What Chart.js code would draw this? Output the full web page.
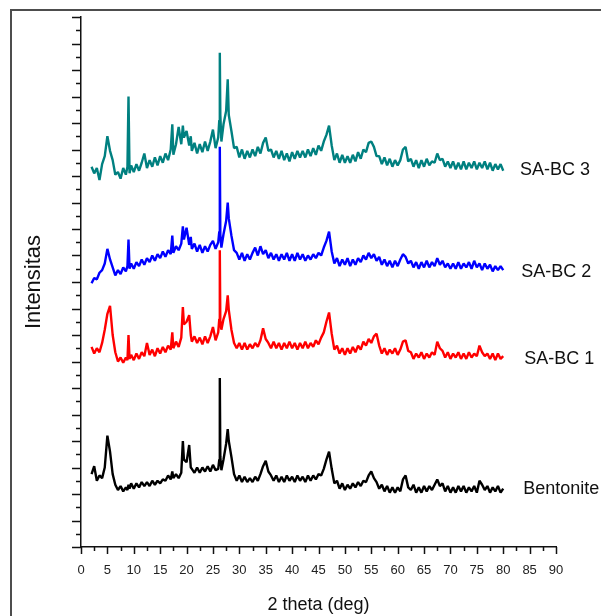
<!DOCTYPE html>
<html>
<head>
<meta charset="utf-8">
<script src="https://cdn.jsdelivr.net/npm/chart.js@4.4.1/dist/chart.umd.min.js"></script>
<style>
  html, body { margin: 0; padding: 0; background: #fff; overflow: hidden; }
  #xrdChart { display: block; }
</style>
</head>
<body>
<canvas id="xrdChart" width="601" height="616"></canvas>
<script>
// 2 theta positions (deg), shared by all patterns
const twoTheta = [
    2, 2.5, 3, 3.5, 4, 4.5, 5, 5.5, 6, 6.5,
    7, 7.5, 8, 8.5, 8.8, 9, 9.2, 9.5, 10, 10.5,
    11, 11.5, 12, 12.5, 13, 13.5, 14, 14.5, 15, 15.5,
    16, 16.5, 17, 17.3, 17.5, 18, 18.5, 19, 19.3, 19.5,
    20, 20.5, 20.8, 21, 21.5, 22, 22.5, 23, 23.5, 24,
    24.5, 25, 25.5, 26, 26.2, 26.3, 26.4, 26.6, 27, 27.5,
    27.8, 28, 28.5, 29, 29.5, 30, 30.5, 31, 31.5, 32,
    32.5, 33, 33.5, 34, 34.5, 35, 35.5, 36, 36.5, 37,
    37.5, 38, 38.5, 39, 39.5, 40, 40.5, 41, 41.5, 42,
    42.5, 43, 43.5, 44, 44.5, 45, 45.5, 46, 46.5, 47,
    47.5, 48, 48.5, 49, 49.5, 50, 50.5, 51, 51.5, 52,
    52.5, 53, 53.5, 54, 54.5, 55, 55.5, 56, 56.5, 57,
    57.5, 58, 58.5, 59, 59.5, 60, 60.5, 61, 61.5, 62,
    62.5, 63, 63.5, 64, 64.5, 65, 65.5, 66, 66.5, 67,
    67.5, 68, 68.5, 69, 69.5, 70, 70.5, 71, 71.5, 72,
    72.5, 73, 73.5, 74, 74.5, 75, 75.5, 76, 76.5, 77,
    77.5, 78, 78.5, 79, 79.5, 80
];

// stacked intensities (offset units)
const sabc3 = [
    14.35, 14.1, 14.3, 13.85, 14.45, 14.75, 15.5, 14.95, 14.6, 14.05,
    14.15, 13.9, 14.3, 14.05, 14.35, 17.0, 14.1, 14.4, 14.15, 14.45,
    14.2, 14.5, 14.85, 14.3, 14.6, 14.35, 14.7, 14.4, 14.75, 14.5,
    14.85, 14.6, 15.0, 15.95, 14.8, 15.2, 15.85, 15.2, 15.9, 15.45,
    15.7, 15.15, 15.5, 14.95, 15.25, 14.85, 15.2, 14.9, 15.3, 14.95,
    15.3, 15.75, 15.05, 15.45, 16.1, 18.65, 16.3, 15.3, 15.95, 16.45,
    17.65, 16.3, 15.7, 15.05, 15.1, 14.7, 15.0, 14.65, 14.95, 14.7,
    15.0, 14.75, 15.1, 14.85, 15.25, 15.45, 14.95, 15.0, 14.7, 14.95,
    14.65, 14.95, 14.6, 14.85, 14.55, 14.9, 14.65, 14.95, 14.7, 14.95,
    14.7, 15.0, 14.75, 15.05, 14.8, 15.15, 14.95, 15.3, 15.55, 15.9,
    15.15, 14.6, 14.85, 14.5, 14.8, 14.5, 14.75, 14.5, 14.8, 14.55,
    14.9, 14.65, 15.0, 14.9, 15.25, 15.3, 15.1, 14.75, 14.75, 14.45,
    14.7, 14.4, 14.65, 14.35, 14.6, 14.4, 14.6, 15.0, 15.1, 14.55,
    14.65, 14.35, 14.6, 14.3, 14.6, 14.35, 14.65, 14.4, 14.55, 14.5,
    14.85, 14.6, 14.65, 14.35, 14.55, 14.3, 14.55, 14.25, 14.5, 14.25,
    14.55, 14.25, 14.5, 14.3, 14.55, 14.25, 14.5, 14.3, 14.55, 14.25,
    14.5, 14.2, 14.45, 14.25, 14.45, 14.2
];
const sabc2 = [
    9.95, 10.15, 10.1, 10.35, 10.45, 10.7, 11.25, 10.85, 10.55, 10.25,
    10.45, 10.3, 10.55, 10.4, 10.6, 11.6, 10.5, 10.7, 10.5, 10.75,
    10.6, 10.85, 10.65, 10.9, 10.75, 11.0, 10.8, 11.05, 10.9, 11.15,
    10.95, 11.2, 11.05, 11.75, 11.1, 11.35, 11.2, 11.45, 12.1, 11.6,
    12.05, 11.4, 11.7, 11.25, 11.45, 11.15, 11.4, 11.1, 11.35, 11.15,
    11.4, 11.55, 11.25, 11.5, 11.9, 15.1, 11.8, 11.3, 11.8, 12.3,
    13.0, 12.4, 11.75, 11.2, 11.1, 10.85, 11.1, 10.8, 11.05, 10.85,
    11.1, 11.3, 11.0, 11.35, 11.05, 11.2, 10.9, 11.1, 10.85, 11.05,
    10.8, 11.05, 10.85, 11.1, 10.8, 11.05, 10.8, 11.1, 10.85, 11.05,
    10.8, 11.0, 10.85, 11.05, 10.9, 11.1, 11.0, 11.3, 11.55, 11.9,
    11.15, 10.7, 10.9, 10.6, 10.85, 10.65, 10.9, 10.6, 10.85, 10.65,
    10.9, 10.75, 11.0, 10.85, 11.1, 10.9, 11.05, 10.8, 10.95, 10.65,
    10.85, 10.6, 10.8, 10.55, 10.8, 10.6, 10.85, 11.05, 10.95, 10.7,
    10.8, 10.55, 10.75, 10.5, 10.75, 10.55, 10.8, 10.55, 10.75, 10.6,
    10.9, 10.65, 10.8, 10.55, 10.7, 10.5, 10.7, 10.5, 10.75, 10.5,
    10.7, 10.55, 10.75, 10.5, 10.8, 10.55, 10.7, 10.45, 10.7, 10.5,
    10.65, 10.4, 10.6, 10.45, 10.6, 10.45
];
const sabc1 = [
    7.55, 7.3, 7.5, 7.35, 7.7, 8.2, 8.8, 9.1, 8.0, 7.35,
    7.0, 7.15, 6.95, 7.15, 7.05, 8.0, 7.1, 7.25, 7.05, 7.3,
    7.1, 7.35, 7.2, 7.7, 7.25, 7.45, 7.2, 7.5, 7.3, 7.55,
    7.35, 7.6, 7.45, 8.1, 7.5, 7.75, 7.55, 7.9, 9.05, 8.4,
    8.5, 8.75, 8.0, 7.75, 7.95, 7.7, 7.9, 7.65, 7.95, 7.7,
    7.95, 8.3, 7.8, 8.1, 8.6, 11.2, 8.5, 8.2, 8.6, 8.9,
    9.5, 8.95, 8.2, 7.7, 7.5, 7.7, 7.45, 7.7, 7.45, 7.65,
    7.5, 7.7, 7.55, 7.8, 8.25, 7.85, 7.7, 7.5, 7.75, 7.5,
    7.7, 7.45, 7.7, 7.5, 7.75, 7.5, 7.7, 7.45, 7.7, 7.5,
    7.75, 7.5, 7.7, 7.55, 7.8, 7.65, 7.9, 8.1, 8.5, 8.85,
    8.05, 7.45, 7.6, 7.3, 7.5, 7.25, 7.5, 7.3, 7.55, 7.35,
    7.6, 7.45, 7.75, 7.6, 7.85, 7.7, 7.95, 8.05, 7.6, 7.3,
    7.5, 7.25, 7.45, 7.3, 7.5, 7.25, 7.45, 7.75, 7.8, 7.4,
    7.35, 7.1, 7.3, 7.15, 7.35, 7.1, 7.3, 7.15, 7.35, 7.25,
    7.75, 7.5, 7.4, 7.15, 7.35, 7.1, 7.3, 7.15, 7.35, 7.1,
    7.3, 7.1, 7.35, 7.15, 7.3, 7.2, 7.6, 7.35, 7.2, 7.3,
    7.1, 7.3, 7.05, 7.3, 7.1, 7.2
];
const bentonite = [
    2.75, 3.05, 2.5, 2.7, 2.6, 3.0, 4.2, 3.6, 2.75, 2.35,
    2.15, 2.3, 2.1, 2.25, 2.15, 2.35, 2.2, 2.4, 2.2, 2.4,
    2.25, 2.45, 2.3, 2.45, 2.3, 2.5, 2.35, 2.5, 2.4, 2.55,
    2.5, 2.7, 2.55, 2.85, 2.6, 2.75, 2.6, 2.8, 4.0, 3.3,
    3.2, 3.85, 3.0, 2.95, 2.8, 3.0, 2.8, 3.0, 2.85, 3.05,
    2.85, 3.1, 2.9, 2.95, 3.3, 6.38, 3.4, 2.9, 3.3, 3.9,
    4.45, 4.0, 3.4, 2.75, 2.5, 2.7, 2.45, 2.65, 2.45, 2.6,
    2.45, 2.65, 2.5, 2.75, 3.05, 3.25, 2.85, 2.7, 2.5, 2.7,
    2.45, 2.65, 2.45, 2.7, 2.5, 2.65, 2.45, 2.7, 2.5, 2.65,
    2.45, 2.7, 2.5, 2.7, 2.55, 2.75, 2.7, 2.95, 3.3, 3.6,
    2.95, 2.4, 2.5, 2.2, 2.4, 2.15, 2.35, 2.2, 2.4, 2.25,
    2.45, 2.3, 2.5, 2.45, 2.7, 2.85, 2.6, 2.45, 2.2, 2.35,
    2.1, 2.3, 2.05, 2.25, 2.05, 2.25, 2.1, 2.55, 2.7, 2.25,
    2.15, 2.35, 2.05, 2.25, 2.05, 2.3, 2.1, 2.3, 2.15, 2.35,
    2.55, 2.3, 2.4, 2.1, 2.3, 2.05, 2.25, 2.05, 2.3, 2.1,
    2.3, 2.05, 2.25, 2.1, 2.3, 2.05, 2.5, 2.35, 2.15, 2.3,
    2.05, 2.25, 2.1, 2.3, 2.05, 2.2
];

const seriesNames = ['SA-BC 3', 'SA-BC 2', 'SA-BC 1', 'Bentonite'];
const seriesColors = ['#008080', '#0000FF', '#FF0000', '#000000'];
const xTicks = [0, 5, 10, 15, 20, 25, 30, 35, 40, 45, 50, 55, 60, 65, 70, 75, 80, 85, 90];

const FONT = 'Arial, "Liberation Sans", sans-serif';

function toPoints(values) {
    return values.map(function(v, i) { return { x: twoTheta[i], y: v }; });
}

// frame, minor/major tick marks and curve names
const decorPlugin = {
    id: 'decor',
    afterDraw: function(chart) {
        const ctx = chart.ctx;
        const xs = chart.scales.x;
        const ys = chart.scales.y;
        const area = chart.chartArea;
        ctx.save();

        // outer frame (runs off the right and bottom edges)
        ctx.strokeStyle = '#4d4d4d';
        ctx.lineWidth = 2;
        ctx.strokeRect(11, 10, 800, 800);

        // ticks
        ctx.strokeStyle = '#111';
        ctx.lineWidth = 1.5;
        ctx.beginPath();
        for (let v = 0; v <= 20; v += 0.5) {
            const py = Math.round(ys.getPixelForValue(v)) + 0.5;
            const len = (v % 1 === 0) ? 9 : 5;
            ctx.moveTo(area.left - len, py);
            ctx.lineTo(area.left, py);
        }
        for (let v = 0; v <= 90; v += 2.5) {
            const px = Math.round(xs.getPixelForValue(v)) + 0.5;
            const len = (v % 5 === 0) ? 7 : 4;
            ctx.moveTo(px, area.bottom);
            ctx.lineTo(px, area.bottom + len);
        }
        ctx.stroke();

        // curve names
        const labelX = [83.2, 83.4, 84.0, 83.8];
        const labelY = [14.23, 10.38, 7.09, 2.19];
        ctx.fillStyle = '#111';
        ctx.font = '18px ' + FONT;
        ctx.textAlign = 'left';
        ctx.textBaseline = 'middle';
        seriesNames.forEach(function(name, i) {
            ctx.fillText(name, xs.getPixelForValue(labelX[i]), ys.getPixelForValue(labelY[i]));
        });
        ctx.restore();
    }
};

const xrdData = {
    datasets: [sabc3, sabc2, sabc1, bentonite].map(function(vals, i) {
        return {
            label: seriesNames[i],
            data: toPoints(vals),
            borderColor: seriesColors[i],
            backgroundColor: seriesColors[i],
            borderWidth: 2.4,
            borderJoinStyle: 'bevel',
            pointRadius: 0,
            tension: 0,
            fill: false
        };
    })
};

const xrdOptions = {
    responsive: false,
    animation: false,
    layout: {
        padding: { left: 0, top: 17, right: 45, bottom: 0 }
    },
    scales: {
        x: {
            type: 'linear',
            min: 0,
            max: 90,
            afterBuildTicks: function(scale) {
                scale.ticks = xTicks.map(function(v) { return { value: v }; });
            },
            afterFit: function(scale) { scale.height = 69; },
            ticks: {
                padding: 16,
                maxRotation: 0,
                autoSkip: false,
                color: '#222',
                font: { family: FONT, size: 13 }
            },
            grid: { display: false, drawTicks: false },
            border: { display: true, color: '#111', width: 1.5 },
            title: {
                display: true,
                text: '2 theta (deg)',
                color: '#111',
                font: { family: FONT, size: 18 },
                padding: { top: 0, bottom: 0 }
            }
        },
        y: {
            min: 0,
            max: 20,
            afterFit: function(scale) { scale.width = 81; },
            ticks: { display: false },
            grid: { display: false, drawTicks: false },
            border: { display: true, color: '#111', width: 1.5 },
            title: {
                display: true,
                text: 'Intensitas',
                color: '#111',
                font: { family: FONT, size: 22 },
                padding: { top: 21, bottom: 0 }
            }
        }
    },
    plugins: {
        legend: { display: false },
        tooltip: { enabled: false }
    }
};

const ctxXrd = document.getElementById('xrdChart').getContext('2d');
const xrdChart = new Chart(ctxXrd, {
    type: 'line',
    data: xrdData,
    options: xrdOptions,
    plugins: [decorPlugin]
});
</script>
</body>
</html>
